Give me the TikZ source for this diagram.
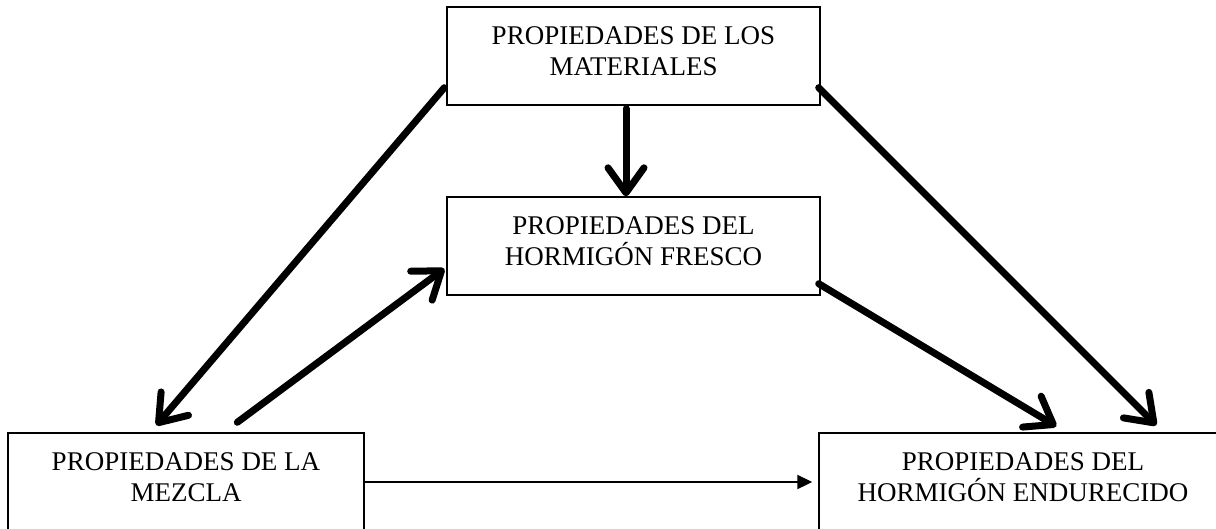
\documentclass[tikz,border=0pt]{standalone}
\usepackage{fontspec}
\setmainfont{Liberation Serif}
\usetikzlibrary{arrows.meta}
\begin{document}
\begin{tikzpicture}[x=1pt,y=-1pt,
  box/.style={draw, line width=1.4pt, rectangle, minimum height=98pt, inner sep=0pt,
    align=center, text depth=9pt, font=\fontsize{27}{31}\selectfont},
  bigarrow/.style={line width=7pt, line cap=round,
    -{Straight Barb[length=25pt,width=36pt,line cap=round,line join=round]}},
  thinarrow/.style={line width=2pt, -{Triangle[length=15pt,width=14pt]}}]
\useasboundingbox (0,0) rectangle (1216,528);
\clip (0,0) rectangle (1216,528);
\node[box, minimum width=373pt] (top) at (633.5,56) {PROPIEDADES DE LOS\\MATERIALES};
\node[box, minimum width=373pt] (mid) at (633.5,246) {PROPIEDADES DEL\\HORMIGÓN FRESCO};
\node[box, minimum width=356pt] (mix) at (186,482) {PROPIEDADES DE LA\\MEZCLA};
\node[box, minimum width=408pt] (hard) at (1023,482) {PROPIEDADES DEL\\HORMIGÓN ENDURECIDO};
\draw[bigarrow] ([xshift=-7.5pt,yshift=-3pt]top.south) -- ([xshift=-7.5pt]mid.north);
\draw[bigarrow] ([xshift=-2pt,yshift=18pt]top.south west) -- ([xshift=149pt,yshift=7pt]mix.north west);
\draw[bigarrow] ([xshift=230pt,yshift=10pt]mix.north west) -- ([xshift=-2pt,yshift=27pt]mid.south west);
\draw[bigarrow] ([xshift=-2pt,yshift=12pt]mid.south east) -- ([xshift=238pt,yshift=6pt]hard.north west);
\draw[bigarrow] ([xshift=-2pt,yshift=18pt]top.south east) -- ([xshift=338pt,yshift=7pt]hard.north west);
\draw[thinarrow] (mix.east) -- ([xshift=-6pt]hard.west);
\end{tikzpicture}
\end{document}
